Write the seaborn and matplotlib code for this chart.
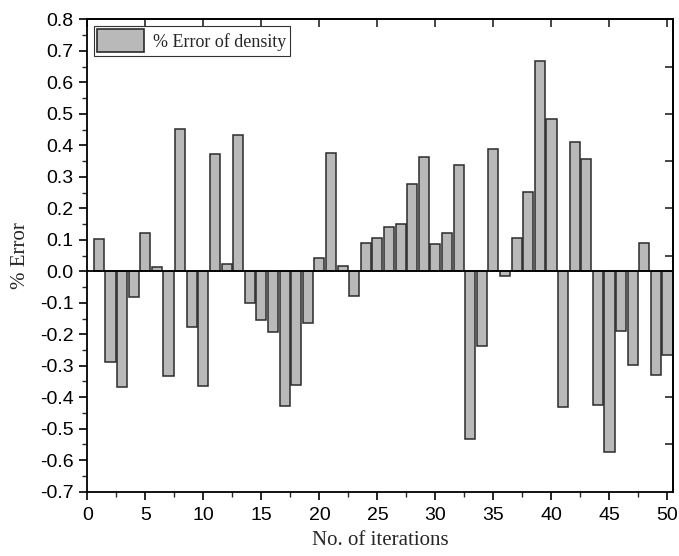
import numpy as np
import pandas as pd
import matplotlib
matplotlib.use("Agg")
import matplotlib.pyplot as plt
import seaborn as sns
from matplotlib.patches import Patch
from matplotlib.ticker import MultipleLocator

# Datos
iterations = list(range(1, 51))
error_pct = [
    0.101, -0.288, -0.366, -0.082, 0.120, 0.012, -0.332, 0.451, -0.177, -0.363,
    0.372, 0.022, 0.432, -0.101, -0.154, -0.193, -0.428, -0.362, -0.163, 0.043,
    0.377, 0.018, -0.077, 0.090, 0.105, 0.141, 0.151, 0.276, 0.362, 0.087,
    0.122, 0.336, -0.532, -0.236, 0.387, -0.015, 0.106, 0.251, 0.669, 0.483,
    -0.431, 0.411, 0.356, -0.426, -0.573, -0.190, -0.299, 0.091, -0.329, -0.265,
]
legend_label = "% Error of density"
y_ticks = [-0.7, -0.6, -0.5, -0.4, -0.3, -0.2, -0.1, 0.0,
           0.1, 0.2, 0.3, 0.4, 0.5, 0.6, 0.7, 0.8]

df = pd.DataFrame({"iteration": iterations, "error": error_pct})

sns.set_style("ticks")
serif = ["Liberation Serif", "DejaVu Serif"]
plt.rcParams["font.family"] = ["Liberation Sans", "DejaVu Sans"]

bar_color = "#b9b9b9"
edge_color = "#2b2b2b"

fig = plt.figure(figsize=(6.79, 5.56), dpi=100)
ax = fig.add_axes([0.1286, 0.1156, 0.863, 0.8497])

sns.barplot(data=df, x="iteration", y="error", native_scale=True, width=0.87,
            color=bar_color, saturation=1, edgecolor=edge_color, linewidth=1.1,
            ax=ax)

ax.axhline(0, color="black", linewidth=1.3, zorder=3)

ax.set_xlim(0, 50.5)
ax.set_ylim(-0.7, 0.8)
ax.xaxis.set_major_locator(MultipleLocator(5))
ax.xaxis.set_minor_locator(MultipleLocator(2.5))
ax.yaxis.set_minor_locator(MultipleLocator(0.05))
ax.set_yticks(y_ticks)
ax.set_yticklabels([f"{v:.1f}" for v in y_ticks])

ax.tick_params(axis="both", which="major", direction="out", length=6, width=1.2,
               labelsize=14, colors="black")
ax.tick_params(axis="x", which="major", pad=5)
ax.tick_params(axis="y", which="major", pad=4)
ax.tick_params(axis="both", which="minor", direction="out", length=3.5, width=1.0)
for s in ax.spines.values():
    s.set_linewidth(1.3)
    s.set_color("black")

# Marcas internas arriba y a la derecha
top = ax.secondary_xaxis("top")
top.set_xticks(range(0, 51, 5))
top.tick_params(direction="in", length=6, width=1.2, labeltop=False)
top.spines["top"].set_linewidth(1.3)
right = ax.secondary_yaxis("right")
right.set_yticks(np.arange(-0.55, 0.7, 0.15))
right.tick_params(direction="in", length=6, width=1.2, labelright=False)
right.spines["right"].set_linewidth(1.3)

ax.set_xlabel("No. of iterations", fontsize=15, family=serif, labelpad=5)
ax.set_ylabel("% Error", fontsize=15, family=serif, labelpad=7)

handle = Patch(facecolor=bar_color, edgecolor=edge_color, linewidth=1.2)
leg = ax.legend([handle], [legend_label], loc="upper left",
                prop={"family": serif, "size": 13}, handlelength=2.6,
                handleheight=1.6, fancybox=False, framealpha=1,
                edgecolor="#333333", borderaxespad=0.35, borderpad=0.2,
                handletextpad=0.5)
leg.get_frame().set_linewidth(0.8)

fig.savefig("out.png", dpi=100)
